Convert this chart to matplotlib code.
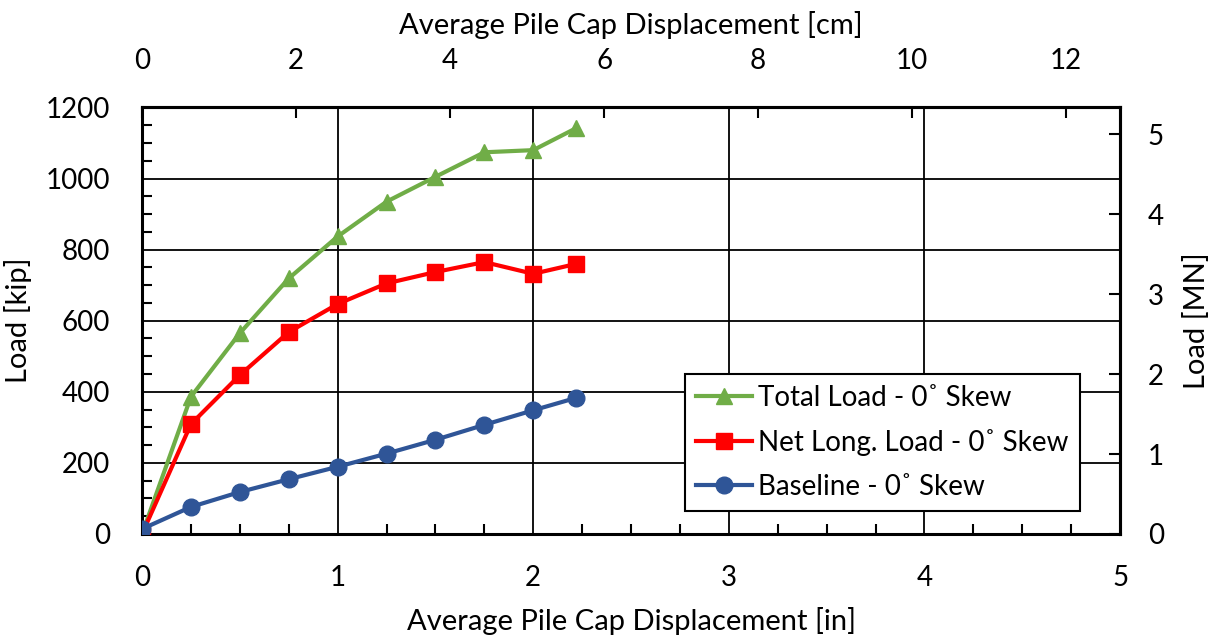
import matplotlib
matplotlib.use("Agg")
import matplotlib.pyplot as plt
from matplotlib.ticker import MultipleLocator, FixedLocator

plt.rcParams['font.family'] = ['Lato', 'DejaVu Sans']

# displacement [in]
disp = [0, 0.25, 0.5, 0.75, 1.0, 1.25, 1.5, 1.75, 2.0, 2.22]
# loads [kip]
total_load = [0, 386, 565, 719, 837, 935, 1005, 1074, 1080, 1142]
net_load = [0, 309, 447, 568, 647, 705, 737, 765, 732, 760]
baseline = [14, 76, 118, 154, 189, 226, 265, 307, 348, 383]

labels = ["Total Load - 0˚ Skew", "Net Long. Load - 0˚ Skew", "Baseline - 0˚ Skew"]
cm_ticks = [0, 2, 4, 6, 8, 10, 12]
mn_ticks = [0, 1, 2, 3, 4, 5]

fig = plt.figure(figsize=(12.14, 6.41), dpi=100)
ax = fig.add_axes([0.117, 0.167, 0.8056, 0.6653])

fs_tick = 20
fs_lab = 21

ax.plot(disp, total_load, color="#70AD47", lw=3, marker="^", ms=12, label=labels[0], zorder=3)
ax.plot(disp, net_load, color="#FF0000", lw=3, marker="s", ms=12, label=labels[1], zorder=4)
ax.plot(disp, baseline, color="#2F5597", lw=3, marker="o", ms=12, label=labels[2], zorder=5)

ax.set_xlim(0, 5)
ax.set_ylim(0, 1200)
ax.xaxis.set_major_locator(MultipleLocator(1))
ax.xaxis.set_minor_locator(MultipleLocator(0.25))
ax.yaxis.set_major_locator(MultipleLocator(200))
ax.yaxis.set_minor_locator(MultipleLocator(50))
ax.grid(which="major", color="black", lw=1.3)
ax.tick_params(which="major", length=0, labelsize=fs_tick)
ax.tick_params(axis="x", which="major", pad=22)
ax.tick_params(axis="y", which="major", pad=23)
ax.tick_params(which="minor", direction="in", length=7, width=1.5)
ax.tick_params(axis="x", which="minor", top=False)
for s in ax.spines.values():
    s.set_linewidth(2.2)

ax.set_xlabel("Average Pile Cap Displacement [in]", fontsize=fs_lab, labelpad=12)
ax.set_ylabel("Load [kip]", fontsize=fs_lab, labelpad=10)

# secondary axes (cm and MN)
top = ax.secondary_xaxis("top", functions=(lambda x: x * 2.54, lambda x: x / 2.54))
top.xaxis.set_major_locator(FixedLocator(cm_ticks))
top.tick_params(direction="in", length=8, width=1.5, labelsize=fs_tick, pad=24)
top.set_xlabel("Average Pile Cap Displacement [cm]", fontsize=fs_lab, labelpad=10)
top.spines["top"].set_linewidth(2.2)

right = ax.secondary_yaxis("right", functions=(lambda y: y * 0.0044482, lambda y: y / 0.0044482))
right.yaxis.set_major_locator(FixedLocator(mn_ticks))
right.tick_params(direction="in", length=8, width=1.5, labelsize=fs_tick, pad=20)
right.set_ylabel("Load [MN]", fontsize=fs_lab, labelpad=14)
right.spines["right"].set_linewidth(2.2)

leg = ax.legend(loc="lower right", bbox_to_anchor=(0.959, 0.054), fontsize=20,
                fancybox=False, edgecolor="black", framealpha=1,
                handlelength=2.0, handletextpad=0.25, borderpad=0.4, labelspacing=0.65,
                borderaxespad=0)
leg.get_frame().set_linewidth(1.5)

fig.savefig("out.png", dpi=100)
